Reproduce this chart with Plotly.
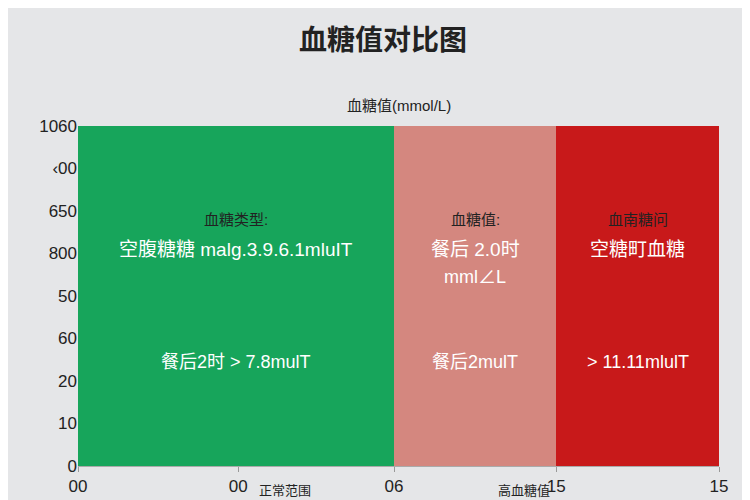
import plotly.graph_objects as go

# segment boundaries (fraction of axis) and colours
seg_start = [0.0, 0.493, 0.746]
seg_end = [0.493, 0.746, 1.0]
seg_colors = ['#17a55b', '#d4877f', '#c8191a']
y_max = 8

x_tickvals = [0, 0.25, 0.493, 0.746, 1.0]
x_ticktext = ['00', '00', '06', '15', '15']
y_tickvals = list(range(9))
y_ticktext = ['0', '10', '20', '60', '50', '800', '650', '‹00', '1060']

labels_top = ['血糖类型:', '血糖值:', '血南糖问']
labels_mid = ['空腹糖糖 malg.3.9.6.1mluIT', '餐后 2.0时', '空糖町血糖']
label_mid2 = 'mml∠L'
labels_low = ['餐后2时 > 7.8mulT', '餐后2mulT', '> 11.11mlulT']

fig = go.Figure()
for s, e, c in zip(seg_start, seg_end, seg_colors):
    fig.add_trace(go.Bar(x=[(s + e) / 2], y=[y_max], width=[e - s],
                         marker_color=c, marker_line_width=0, showlegend=False))

for i, (s, e) in enumerate(zip(seg_start, seg_end)):
    cx = (s + e) / 2
    fig.add_annotation(x=cx, y=5.8, text=labels_top[i], showarrow=False,
                       font=dict(size=15, color='#222'))
    fig.add_annotation(x=cx, y=5.1, text=labels_mid[i], showarrow=False,
                       font=dict(size=19, color='white'))
    fig.add_annotation(x=cx, y=2.45, text=labels_low[i], showarrow=False,
                       font=dict(size=18, color='white'))
fig.add_annotation(x=(seg_start[1] + seg_end[1]) / 2, y=4.45, text=label_mid2, showarrow=False,
                   font=dict(size=18, color='white'))

fig.add_annotation(x=0.5, y=1.09, xref='paper', yref='paper', text='血糖值(mmol/L)',
                   showarrow=False, font=dict(size=15, color='#222'))
fig.add_annotation(x=0.28, y=-0.1, xref='paper', yref='paper', text='正常范围',
                   showarrow=False, font=dict(size=13, color='#222'), yanchor='bottom')
fig.add_annotation(x=0.74, y=-0.1, xref='paper', yref='paper', text='高血糖值',
                   showarrow=False, font=dict(size=13, color='#222'), yanchor='bottom')

fig.update_layout(
    width=750, height=500,
    title=dict(text='<b>血糖值对比图</b>', x=0.5, y=0.935, xanchor='center', yanchor='middle',
               font=dict(size=28, color='#222')),
    paper_bgcolor='#e5e6e8', plot_bgcolor='#e5e6e8',
    margin=dict(l=70, r=39, t=118, b=39),
    font=dict(family='Liberation Sans, Noto Sans CJK SC', size=17, color='#222'),
    bargap=0,
)
fig.update_xaxes(range=[0, 1], tickvals=x_tickvals, ticktext=x_ticktext,
                 showgrid=False, ticks='outside', ticklen=5, tickcolor='#999',
                 showline=True, linecolor='#aaa', zeroline=False)
fig.update_yaxes(range=[0, y_max], tickvals=y_tickvals, ticktext=y_ticktext,
                 showgrid=False, zeroline=False, ticks='')
fig.write_html('out.html')
